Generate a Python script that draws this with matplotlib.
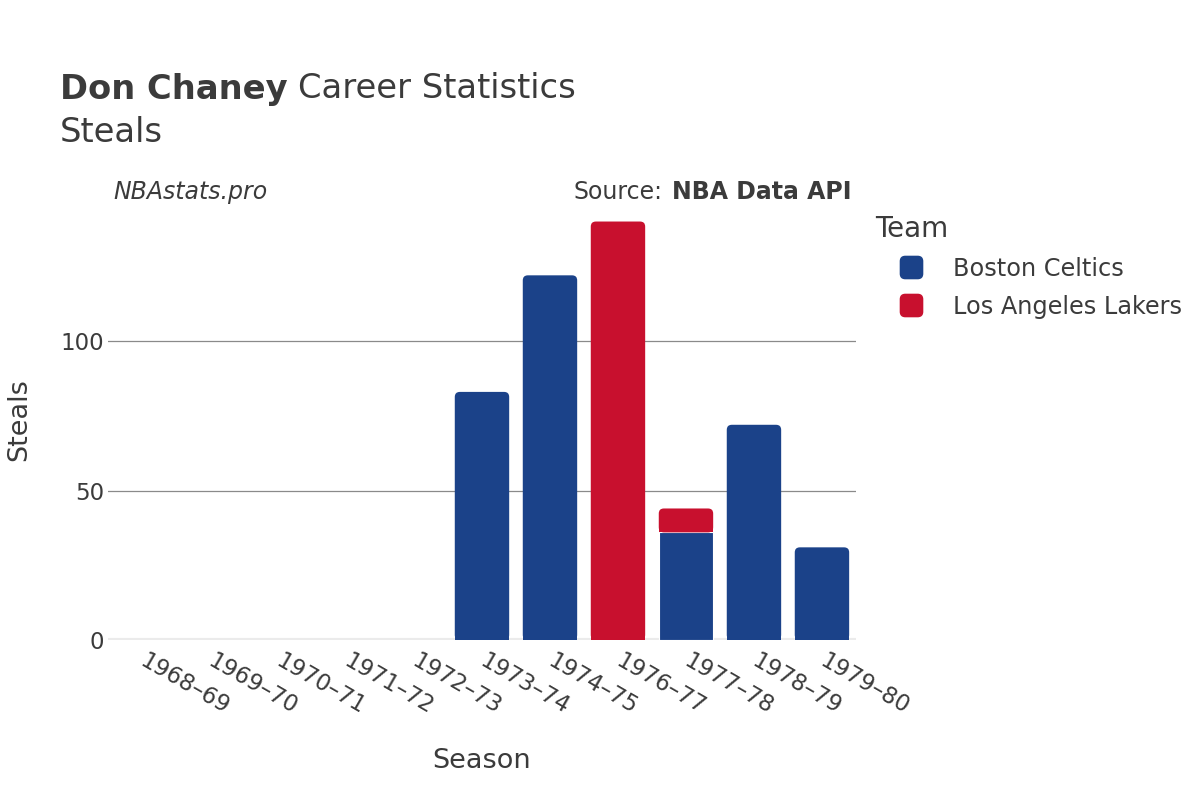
import matplotlib
matplotlib.use("Agg")
import matplotlib.pyplot as plt
from matplotlib.patches import FancyBboxPatch, BoxStyle
from matplotlib.lines import Line2D
from matplotlib.path import Path
import numpy as np

seasons = ["1968–69", "1969–70", "1970–71", "1971–72", "1972–73", "1973–74",
           "1974–75", "1976–77", "1977–78", "1978–79", "1979–80"]
celtics = [0, 0, 0, 0, 0, 83, 122, 0, 36, 72, 31]
lakers = [0, 0, 0, 0, 0, 0, 0, 140, 8, 0, 0]
teams = ["Boston Celtics", "Los Angeles Lakers"]
colors = {"Boston Celtics": "#1B4289", "Los Angeles Lakers": "#C8102E"}
yticks = [0, 50, 100]

TXT = "#3b3b3b"
plt.rcParams['font.family'] = ['DejaVu Sans']

fig = plt.figure(figsize=(12, 8), dpi=100)
ax = fig.add_axes([0.09, 0.2, 0.6233, 0.55])
x = np.arange(len(seasons))
ax.set_xlim(-0.5, len(seasons) - 0.5)
ax.set_ylim(0, 147.2)

width = 0.8
series = [("Boston Celtics", celtics), ("Los Angeles Lakers", lakers)]
bottoms = np.zeros(len(seasons))
tops = np.array(celtics) + np.array(lakers)

rx = 0.075
ry = 1.7
for name, vals in series:
    vals = np.array(vals, dtype=float)
    rects = ax.bar(x, vals, width=width, bottom=bottoms, color=colors[name],
                   edgecolor="white", linewidth=0.8, zorder=3)
    for i, r in enumerate(rects):
        if vals[i] <= 0:
            r.set_visible(False)
            continue
        is_top = np.isclose(bottoms[i] + vals[i], tops[i])
        if is_top:
            h = vals[i]
            r.set_height(max(h - ry, 0))
            r.set_linewidth(0)
            p = FancyBboxPatch((r.get_x(), bottoms[i]), width, h,
                               boxstyle=f"round,pad=0,rounding_size={rx}",
                               mutation_aspect=ry / rx,
                               facecolor=colors[name], edgecolor="none",
                               zorder=3)
            ax.add_patch(p)
    bottoms = bottoms + vals

for yv in yticks[1:]:
    ax.axhline(yv, color="#8a8a8a", linewidth=0.9, zorder=1)
ax.axhline(0, color="#ebebeb", linewidth=3, zorder=2)

for s in ax.spines.values():
    s.set_visible(False)
ax.set_yticks(yticks)
ax.set_yticklabels([str(v) for v in yticks], fontsize=16.5, color=TXT)
ax.tick_params(axis="y", length=0, pad=3)
ax.set_xticks(x)
ax.set_xticklabels(seasons, rotation=-30, ha="left", va="center",
                   rotation_mode="anchor", fontsize=16.5, color=TXT)
ax.tick_params(axis="x", length=0, pad=14)

ax.set_xlabel("Season", fontsize=19.5, color=TXT, labelpad=21)
ax.set_ylabel("Steals", fontsize=19.5, color=TXT, labelpad=20)

# titles
TS = 24.3
t1 = fig.text(60 / 1200, 1 - 89 / 800, "Don Chaney", fontsize=TS,
              fontweight="bold", color=TXT, va="center", ha="left")
fig.canvas.draw()
bb = t1.get_window_extent()
fig.text(bb.x1 / 1200 + 0.009, 1 - 89 / 800, "Career Statistics", fontsize=TS,
         color=TXT, va="center", ha="left")
fig.text(60 / 1200, 1 - 132 / 800, "Steals", fontsize=TS, color=TXT,
         va="center", ha="left")

fig.text(113 / 1200, 1 - 192 / 800, "NBAstats.pro", fontsize=17, style="italic",
         color=TXT, va="center", ha="left")
t2 = fig.text(852 / 1200, 1 - 192 / 800, "NBA Data API", fontsize=17,
              fontweight="bold", color=TXT, va="center", ha="right")
fig.canvas.draw()
bb2 = t2.get_window_extent()
fig.text(bb2.x0 / 1200 - 0.008, 1 - 192 / 800, "Source:", fontsize=17,
         color=TXT, va="center", ha="right")

# legend with rounded-square markers
rpath = BoxStyle.Round(pad=0, rounding_size=0.22)(-0.5, -0.5, 1.0, 1.0, 1.0)
rpath = Path(rpath.vertices, rpath.codes)
handles = [Line2D([0], [0], marker=rpath, linestyle="none", markersize=16,
                  markerfacecolor=colors[t], markeredgecolor=colors[t])
           for t in teams]
leg = fig.legend(handles, teams, loc="upper left",
                 bbox_to_anchor=(858 / 1200, 1 - 198 / 800), frameon=False,
                 fontsize=17.3, title="Team", title_fontsize=20,
                 handlelength=3.0, handletextpad=0.25,
                 labelspacing=0.58, borderpad=0.2)
leg._legend_box.align = "left"
for txt in leg.get_texts():
    txt.set_color(TXT)
leg.get_title().set_color(TXT)

fig.savefig("out.png", dpi=100, facecolor="white")
